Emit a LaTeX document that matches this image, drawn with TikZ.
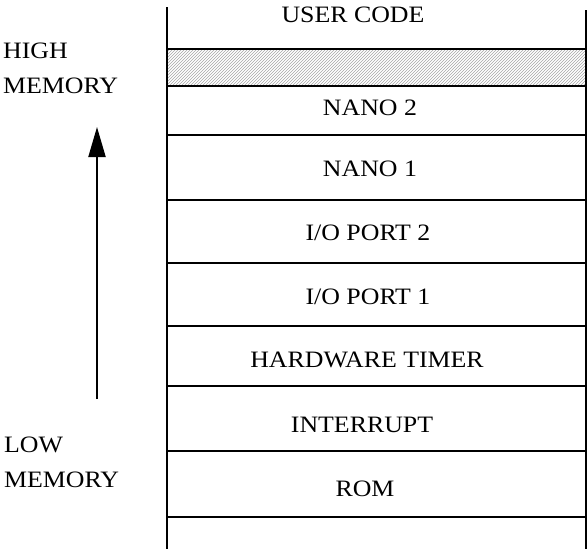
\documentclass[tikz,border=0pt]{standalone}
\usepackage{fontspec}
\setmainfont{Liberation Serif}[FakeStretch=1.1]
\usetikzlibrary{arrows.meta,patterns}
\begin{document}
\begin{tikzpicture}[x=1pt,y=1pt,
  rule/.style={line width=2pt},
  lbl/.style={anchor=base,inner sep=0pt,font=\fontsize{23.5}{28}\selectfont},
  side/.style={anchor=base west,inner sep=0pt,font=\fontsize{23.5}{28}\selectfont}]
\useasboundingbox (0,0) rectangle (588,-549);
% hatched band
\fill[pattern=north east lines,pattern color=gray!70] (167,-49) rectangle (586,-86);
% verticals
\coordinate (tl) at (167,-7);
\coordinate (bl) at (167,-549);
\coordinate (tr) at (586,-10);
\coordinate (br) at (586,-549);
\draw[rule] (tl) -- (bl);
\draw[rule] (tr) -- (br);
% horizontals
\foreach \y in {49,86,135,200,263,326,386,451,517}
  \draw[rule] (167,-\y) -- (586,-\y);
% labels
\node[lbl] (user) at (353,-22) {USER CODE};
\node[lbl] (nano2) at (370,-115) {NANO 2};
\node[lbl] (nano1) at (370,-176) {NANO 1};
\node[lbl] (io2) at (368,-240) {I/O PORT 2};
\node[lbl] (io1) at (368,-304) {I/O PORT 1};
\node[lbl] (hw) at (367,-367) {HARDWARE TIMER};
\node[lbl] (intr) at (362,-432) {INTERRUPT};
\node[lbl] (rom) at (365,-496) {ROM};
\node[side] (high) at (3,-58) {HIGH};
\node[side] (mem1) at (3,-93) {MEMORY};
\node[side] (low) at (4,-452) {LOW};
\node[side] (mem2) at (4,-487) {MEMORY};
% arrow
\coordinate (a0) at (97,-399);
\coordinate (a1) at (97,-127);
\draw[line width=2pt,-{Triangle[length=30pt,width=17pt]}] (a0) -- (a1);
\end{tikzpicture}
\end{document}
